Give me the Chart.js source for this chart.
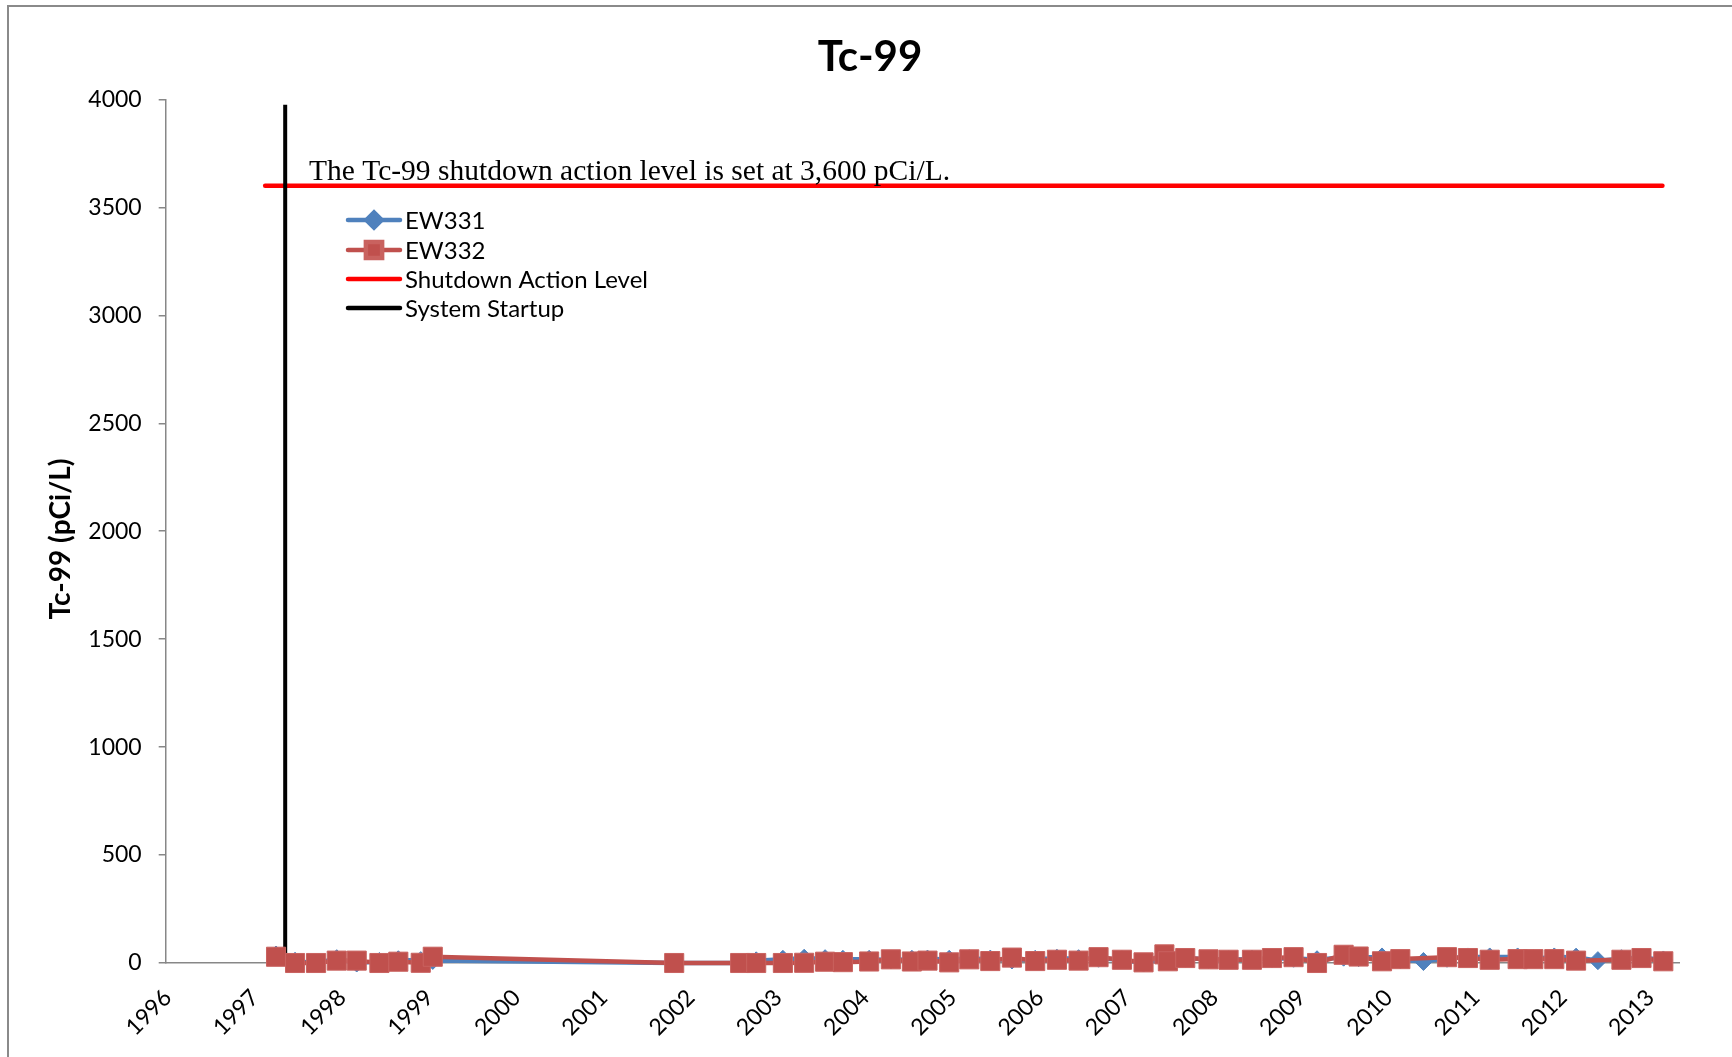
<!DOCTYPE html>
<html>
<head>
<meta charset="utf-8">
<title>Tc-99</title>
<script src="https://cdn.jsdelivr.net/npm/chart.js@4.4.1/dist/chart.umd.min.js"></script>
<style>
  html, body { margin: 0; padding: 0; background: #ffffff; overflow: hidden; }
  #wrap { position: relative; width: 1732px; height: 1057px; }
</style>
</head>
<body>
<div id="wrap"><canvas id="chart" width="1732" height="1057"></canvas></div>
<script>
// Sampling dates (decimal years) and Tc-99 results (pCi/L), extraction well EW331
const ew331Dates = [
  1997.265, 1997.483, 1997.724, 1997.961, 1998.19, 1998.45, 1998.667, 1998.924, 1999.062,
  2001.83, 2002.586, 2002.77, 2003.076, 2003.32, 2003.56, 2003.764, 2004.065, 2004.314,
  2004.555, 2004.734, 2004.983, 2005.213, 2005.454, 2005.702, 2005.969, 2006.218, 2006.466,
  2006.695, 2006.963, 2007.211, 2007.471, 2007.689, 2007.956, 2008.186, 2008.454, 2008.683,
  2008.931, 2009.2, 2009.505, 2009.677, 2009.945, 2010.155, 2010.42, 2010.69, 2010.93,
  2011.18, 2011.5, 2011.68, 2011.92, 2012.17, 2012.42, 2012.69, 2012.92, 2013.17
];
const ew331Values = [
  37, 8, 0, 20, 0, 7, 15, 11, 12,
  0, 0, 10, 17, 22, 20, 17, 17, 14,
  17, 18, 17, 20, 18, 14, 17, 22, 20,
  22, 15, 0, 20, 22, 17, 15, 18, 20,
  22, 15, 27, 25, 28, 15, 7, 22, 28,
  28, 28, 20, 28, 27, 11, 20, 25, 14
];

// Sampling dates (decimal years) and Tc-99 results (pCi/L), extraction well EW332
const ew332Dates = [
  1997.265, 1997.483, 1997.724, 1997.961, 1998.19, 1998.45, 1998.667, 1998.924, 1999.062,
  2001.83, 2002.586, 2002.77, 2003.076, 2003.32, 2003.56, 2003.764, 2004.065, 2004.314,
  2004.555, 2004.734, 2004.983, 2005.213, 2005.454, 2005.702, 2005.969, 2006.218, 2006.466,
  2006.695, 2006.963, 2007.211, 2007.45, 2007.49, 2007.689, 2007.956, 2008.186, 2008.454,
  2008.683, 2008.931, 2009.2, 2009.505, 2009.677, 2009.945, 2010.155, 2010.69, 2010.93,
  2011.18, 2011.5, 2011.68, 2011.92, 2012.17, 2012.69, 2012.92, 2013.17
];
const ew332Values = [
  29, 0, 0, 11, 11, 0, 6, 1, 29,
  0, 0, 0, 0, 1, 6, 4, 7, 17,
  7, 11, 3, 17, 9, 25, 9, 15, 11,
  27, 15, 3, 40, 8, 23, 17, 15, 15,
  23, 27, 0, 38, 30, 8, 18, 27, 23,
  15, 18, 18, 18, 11, 15, 23, 8
];

// Shutdown action level and system startup reference lines
const actionLevelDates = [1997.14, 2013.16];
const actionLevelValues = [3600, 3600];
const startupDates = [1997.37, 1997.37];
const startupValues = [0, 3975];

// Axis tick values
const yearTicks = [1996, 1997, 1998, 1999, 2000, 2001, 2002, 2003, 2004,
  2005, 2006, 2007, 2008, 2009, 2010, 2011, 2012, 2013];
const concTicks = [0, 500, 1000, 1500, 2000, 2500, 3000, 3500, 4000];

const seriesNames = ['EW331', 'EW332', 'Shutdown Action Level', 'System Startup'];
const noteText = 'The Tc-99 shutdown action level is set at 3,600 pCi/L.';
const yTitle = 'Tc-99 (pCi/L)';

const pairs = (xs, ys) => xs.map((x, i) => ({ x: x, y: ys[i] }));

const SANS = 'Lato, "Open Sans", sans-serif';
const AXIS_GREY = '#878787';

// White page with the grey outer frame
const framePlugin = {
  id: 'frame',
  beforeDraw(chart) {
    const ctx = chart.ctx;
    ctx.save();
    ctx.fillStyle = '#ffffff';
    ctx.fillRect(0, 0, chart.width, chart.height);
    ctx.strokeStyle = '#8a8a8a';
    ctx.lineWidth = 2;
    ctx.strokeRect(8, 6, chart.width + 40, chart.height + 40);
    ctx.restore();
  }
};

// Rotated y-axis title
const yTitlePlugin = {
  id: 'yTitle',
  afterDraw(chart) {
    const ctx = chart.ctx;
    ctx.save();
    ctx.translate(61, 539);
    ctx.rotate(-Math.PI / 2);
    ctx.font = 'bold 28px ' + SANS;
    ctx.fillStyle = '#000000';
    ctx.textAlign = 'center';
    ctx.textBaseline = 'middle';
    ctx.fillText(yTitle, 0, 0);
    ctx.restore();
  }
};

// Note above the action level line
const notePlugin = {
  id: 'note',
  afterDraw(chart) {
    const ctx = chart.ctx;
    ctx.save();
    ctx.font = '29.5px "Liberation Serif", "Times New Roman", serif';
    ctx.fillStyle = '#000000';
    ctx.textAlign = 'left';
    ctx.textBaseline = 'alphabetic';
    ctx.fillText(noteText, 309, 179.5);
    ctx.restore();
  }
};

// Series key drawn inside the plot area
const keyPlugin = {
  id: 'seriesKey',
  afterDraw(chart) {
    const ctx = chart.ctx;
    const x0 = 348, x1 = 400, tx = 405;
    const rowY = [220, 250, 279, 308];
    ctx.save();
    chart.data.datasets.forEach((ds, i) => {
      const y = rowY[i];
      ctx.strokeStyle = ds.borderColor;
      ctx.lineWidth = 4.5;
      ctx.lineCap = 'round';
      ctx.beginPath();
      ctx.moveTo(x0, y);
      ctx.lineTo(x1, y);
      ctx.stroke();
      if (ds.pointRadius > 0) {
        ctx.fillStyle = ds.pointBackgroundColor;
        ctx.strokeStyle = ds.pointBorderColor;
        Chart.helpers.drawPoint(ctx, {
          pointStyle: ds.pointStyle,
          radius: ds.pointRadius * 0.85,
          rotation: 0,
          borderWidth: 1
        }, (x0 + x1) / 2, y);
      }
      ctx.font = '24px ' + SANS;
      ctx.fillStyle = '#000000';
      ctx.textAlign = 'left';
      ctx.textBaseline = 'middle';
      ctx.fillText(ds.label, tx, y + 1);
    });
    ctx.restore();
  }
};

new Chart(document.getElementById('chart'), {
  type: 'line',
  data: {
    datasets: [
      {
        label: seriesNames[0],
        data: pairs(ew331Dates, ew331Values),
        borderColor: '#4F81BD',
        backgroundColor: '#4F81BD',
        borderWidth: 4.5,
        pointStyle: 'rectRot',
        pointRadius: 9,
        pointBackgroundColor: '#4F81BD',
        pointBorderColor: '#4F81BD',
        pointBorderWidth: 1,
        tension: 0,
        clip: false,
        order: 2
      },
      {
        label: seriesNames[1],
        data: pairs(ew332Dates, ew332Values),
        borderColor: '#C0504D',
        backgroundColor: '#C0504D',
        borderWidth: 4.5,
        pointStyle: 'rect',
        pointRadius: 13.5,
        pointBackgroundColor: '#C0504D',
        pointBorderColor: '#C9625F',
        pointBorderWidth: 1,
        tension: 0,
        clip: false,
        order: 1
      },
      {
        label: seriesNames[2],
        data: pairs(actionLevelDates, actionLevelValues),
        borderColor: '#FF0000',
        borderWidth: 4.5,
        borderCapStyle: 'round',
        pointRadius: 0,
        tension: 0,
        clip: false,
        order: 4
      },
      {
        label: seriesNames[3],
        data: pairs(startupDates, startupValues),
        borderColor: '#000000',
        borderWidth: 4,
        pointRadius: 0,
        tension: 0,
        clip: false,
        order: 3
      }
    ]
  },
  options: {
    responsive: false,
    animation: false,
    devicePixelRatio: 1,
    layout: { padding: { left: 61, right: 53, top: 0, bottom: 0 } },
    plugins: {
      legend: { display: false },
      tooltip: { enabled: false },
      title: {
        display: true,
        text: 'Tc-99',
        color: '#000000',
        font: { family: SANS, size: 42, weight: 'bold' },
        padding: { top: 32, bottom: 17 }
      }
    },
    scales: {
      x: {
        type: 'linear',
        min: 1996,
        max: 2013.35,
        afterBuildTicks(scale) {
          scale.ticks = yearTicks.map(v => ({ value: v }));
        },
        afterFit(scale) { scale.height = 94; },
        grid: { display: false, drawTicks: false },
        border: { display: true, color: AXIS_GREY, width: 1.5 },
        ticks: {
          autoSkip: false,
          minRotation: 45,
          maxRotation: 45,
          padding: 21,
          labelOffset: 2,
          color: '#000000',
          font: { family: SANS, size: 23 },
          callback: v => String(v)
        }
      },
      y: {
        type: 'linear',
        min: 0,
        max: 4000,
        afterBuildTicks(scale) {
          scale.ticks = concTicks.map(v => ({ value: v }));
        },
        afterFit(scale) { scale.width = 165.7 - 61; },
        grid: { display: true, drawOnChartArea: false, drawTicks: true, tickLength: 7, color: AXIS_GREY, lineWidth: 1.5 },
        border: { display: true, color: AXIS_GREY, width: 1.5 },
        ticks: {
          padding: 17,
          color: '#000000',
          font: { family: SANS, size: 23 },
          callback: v => String(v)
        }
      }
    }
  },
  plugins: [framePlugin, yTitlePlugin, notePlugin, keyPlugin]
});
</script>
</body>
</html>
